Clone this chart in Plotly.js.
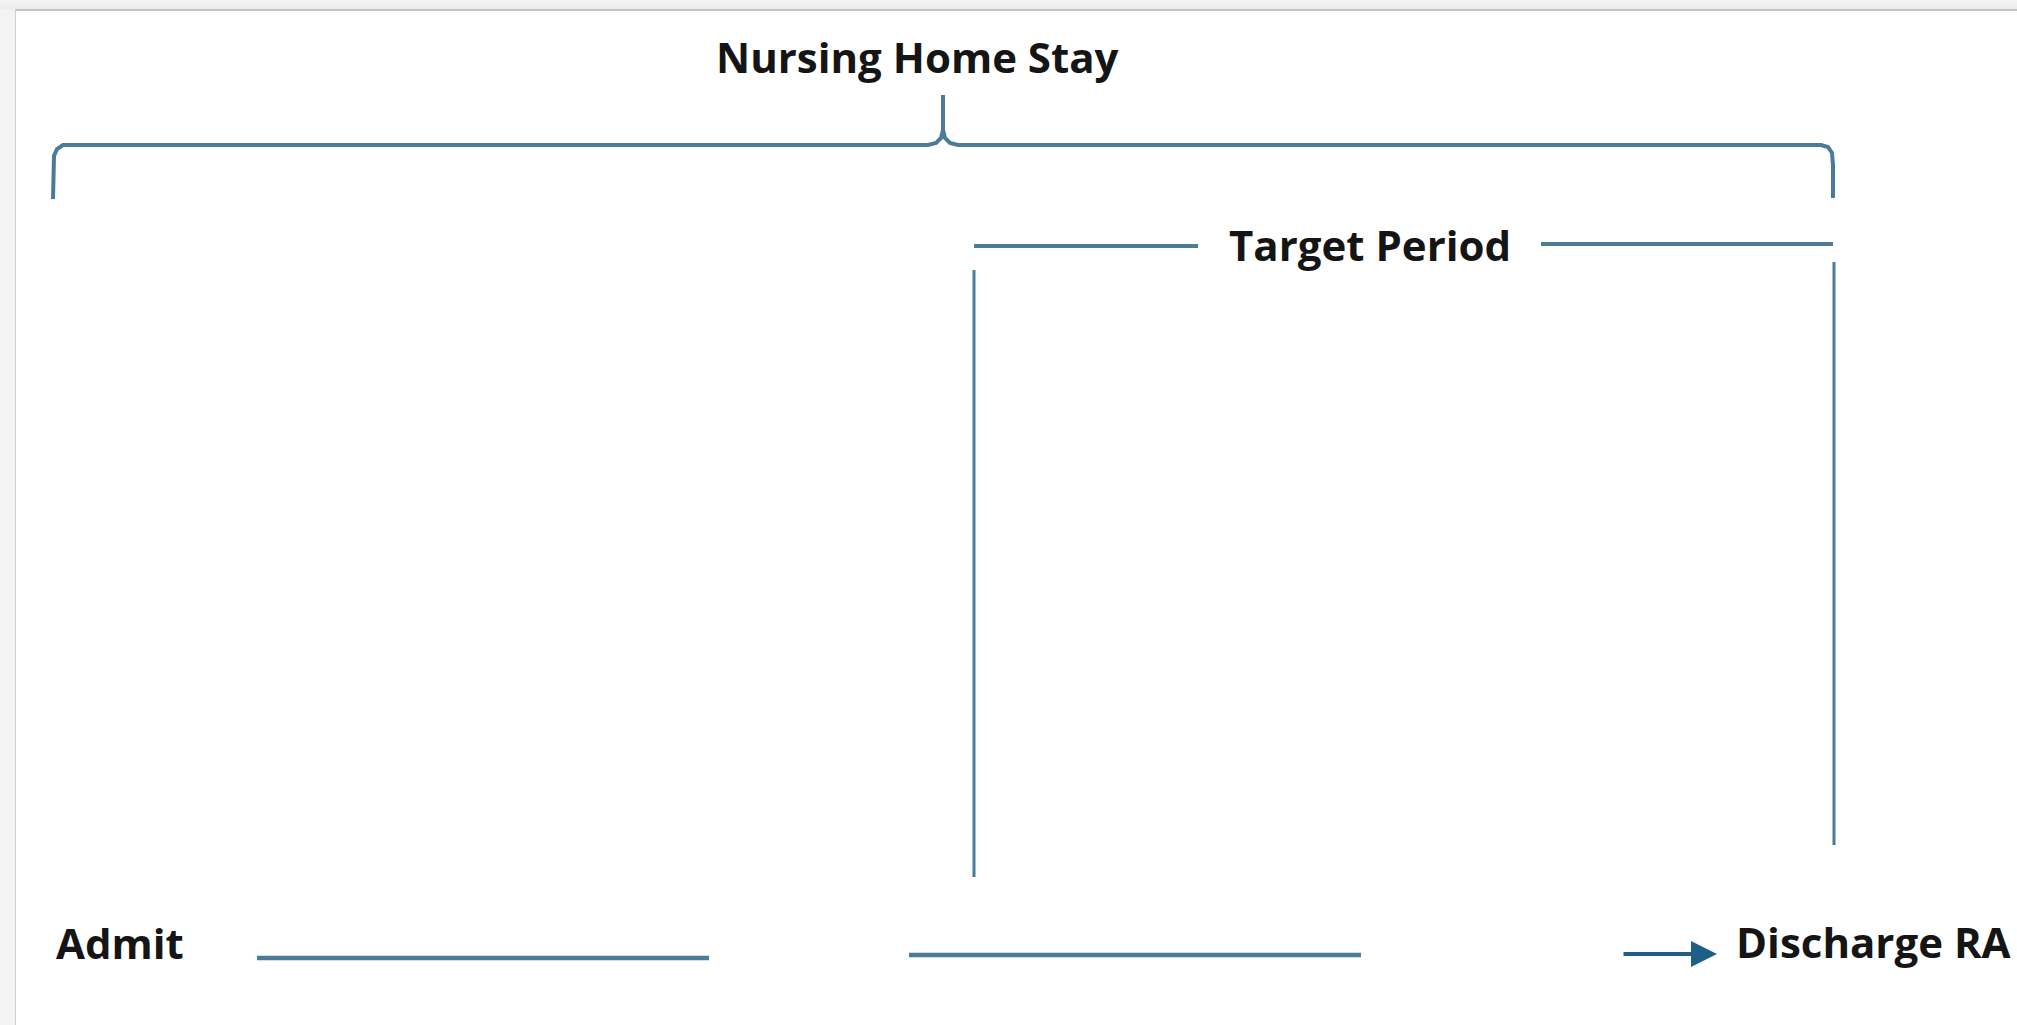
<!DOCTYPE html>
<html>
<head>
<meta charset="utf-8">
<script src="https://cdn.plot.ly/plotly-3.0.1.min.js"></script>
<style>
  html, body { margin: 0; padding: 0; width: 2017px; height: 1025px; overflow: hidden; }
  body { background: linear-gradient(to bottom, #f4f4f4 0px, #ececec 9px, #f3f3f3 10px, #f3f3f3 100%); }
  #frame { position: absolute; left: 15px; top: 9px; width: 2002px; height: 1016px;
           border-left: 1px solid #cfcfcf; border-top: 2px solid #c4c4c4; background: #ffffff; }
  #chart { width: 2001px; height: 1014px; }
</style>
</head>
<body>
<div id="frame"><div id="chart"></div></div>
<script>
// ---- diagram data (pixel positions of the timeline diagram) ----
const braceLeftX  = [53, 53, 54, 57, 63, 928, 936, 941, 943, 943];
const braceLeftY  = [199, 168, 156, 149, 145, 145, 143, 138, 130, 95];
const braceRightX = [943, 945, 950, 958, 1821, 1828, 1832, 1833, 1833];
const braceRightY = [130, 138, 143, 145, 145, 147, 153, 165, 198];

const targetBarX = [974, 1198, null, 1541, 1833];
const targetBarY = [246, 246, null, 244, 244];

const targetSideX = [974, 974, null, 1834, 1834];
const targetSideY = [270, 877, null, 262, 845];

const timelineX = [257, 709, null, 909, 1361];
const timelineY = [958, 958, null, 955, 955];

const arrowFromX = 1622, arrowToX = 1717, arrowY = 954;

const labels = ['Nursing Home Stay', 'Target Period', 'Admit', 'Discharge RA'];
const labelX = [917, 1370, 54, 1734];
const labelY = [56, 244, 942, 941];
const labelAnchor = ['center', 'center', 'left', 'left'];

// ---- styling ----
const LINE = '#4a7c9a';
const ARROW = '#1f5e87';
const TEXT = '#151515';
const FONT = 'Open Sans, Noto Sans, sans-serif';

const OFFX = 16, OFFY = 11; // frame offset inside window
const W = 2001, H = 1014;

function lineTrace(x, y, w) {
  return { x: x, y: y, type: 'scatter', mode: 'lines', hoverinfo: 'skip',
           line: { color: LINE, width: w }, connectgaps: false, showlegend: false };
}

const data = [
  lineTrace(braceLeftX, braceLeftY, 4),
  lineTrace(braceRightX, braceRightY, 4),
  lineTrace(targetBarX, targetBarY, 4),
  lineTrace(targetSideX, targetSideY, 3),
  lineTrace(timelineX, timelineY, 4.5)
];

const annotations = labels.map((t, i) => ({
  text: t, x: labelX[i], y: labelY[i], xref: 'x', yref: 'y',
  xanchor: labelAnchor[i], yanchor: 'middle', showarrow: false,
  font: { family: FONT, size: 42, color: TEXT, weight: 700 }
}));
annotations.push({
  x: arrowToX, y: arrowY, ax: arrowFromX, ay: arrowY,
  xref: 'x', yref: 'y', axref: 'x', ayref: 'y',
  text: '', showarrow: true, arrowhead: 2, arrowsize: 1.3, arrowwidth: 4, arrowcolor: ARROW
});

const layout = {
  width: W, height: H,
  margin: { l: 0, r: 0, t: 0, b: 0, pad: 0 },
  paper_bgcolor: '#ffffff', plot_bgcolor: '#ffffff',
  xaxis: { range: [OFFX, OFFX + W], visible: false, fixedrange: true },
  yaxis: { range: [OFFY + H, OFFY], visible: false, fixedrange: true },
  annotations: annotations,
  showlegend: false
};

Plotly.newPlot('chart', data, layout, { staticPlot: true, displayModeBar: false });
</script>
</body>
</html>
